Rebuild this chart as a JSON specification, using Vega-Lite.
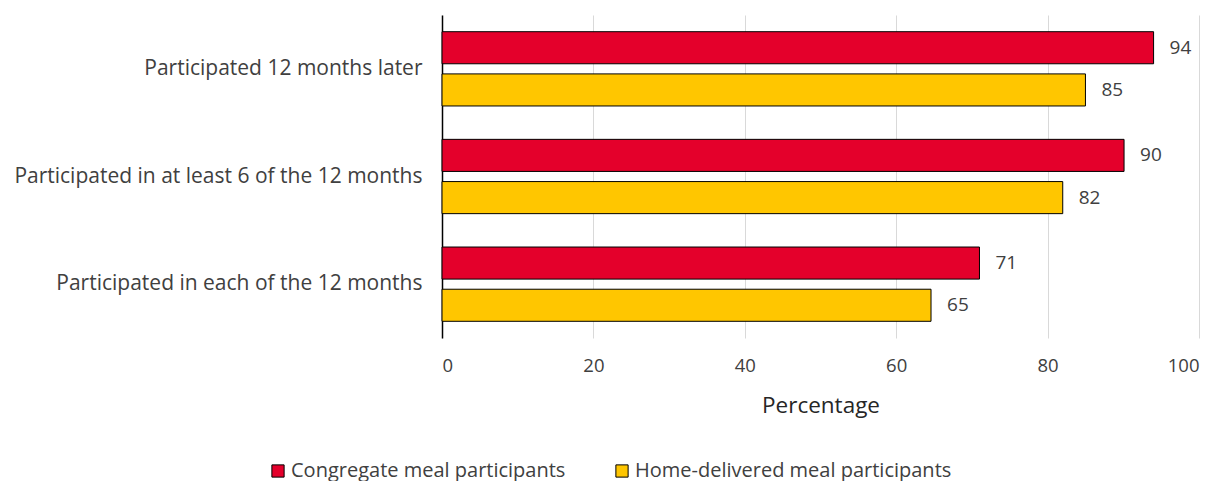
{
  "$schema": "https://vega.github.io/schema/vega-lite/v6.json",
  "width": 757,
  "height": 323,
  "padding": {"left": 13, "top": 15, "right": 5, "bottom": 0},
  "config": {
    "view": {"stroke": null},
    "font": "Open Sans"
  },
  "data": {
    "values": [
      {"measure": "Participated 12 months later", "group": "Congregate meal participants", "value": 94},
      {"measure": "Participated 12 months later", "group": "Home-delivered meal participants", "value": 85},
      {"measure": "Participated in at least 6 of the 12 months", "group": "Congregate meal participants", "value": 90.1},
      {"measure": "Participated in at least 6 of the 12 months", "group": "Home-delivered meal participants", "value": 82},
      {"measure": "Participated in each of the 12 months", "group": "Congregate meal participants", "value": 71},
      {"measure": "Participated in each of the 12 months", "group": "Home-delivered meal participants", "value": 64.6}
    ]
  },
  "encoding": {
    "y": {
      "field": "measure",
      "type": "nominal",
      "sort": null,
      "scale": {"paddingInner": 0.31, "paddingOuter": 0.155},
      "axis": {
        "title": null,
        "ticks": false,
        "domain": true,
        "domainColor": "#000000",
        "domainWidth": 1.5,
        "labelFontSize": 21,
        "labelColor": "#404040",
        "labelPadding": 20,
        "labelLimit": 700
      }
    },
    "yOffset": {
      "field": "group",
      "type": "nominal",
      "scale": {"paddingInner": 0.24, "paddingOuter": 0}
    },
    "x": {
      "field": "value",
      "type": "quantitative",
      "scale": {"domain": [0, 100]},
      "axis": {
        "title": "Percentage",
        "titleFontSize": 22.5,
        "titleFontWeight": "normal",
        "titleColor": "#262626",
        "titlePadding": 20,
        "values": [0, 20, 40, 60, 80, 100],
        "domain": false,
        "ticks": false,
        "grid": true,
        "gridColor": "#d9d9d9",
        "labelFontSize": 18.5,
        "labelColor": "#404040",
        "labelPadding": 18
      }
    }
  },
  "layer": [
    {
      "mark": {"type": "bar", "stroke": "#000000", "strokeWidth": 1},
      "encoding": {
        "color": {
          "field": "group",
          "type": "nominal",
          "scale": {
            "domain": ["Congregate meal participants", "Home-delivered meal participants"],
            "range": ["#E4002B", "#FFC600"]
          },
          "legend": {
            "title": null,
            "orient": "none",
            "direction": "horizontal",
            "padding": 0,
            "legendX": -174,
            "legendY": 446,
            "symbolType": "square",
            "symbolSize": 150,
            "symbolStrokeColor": "#000000",
            "symbolStrokeWidth": 1,
            "labelFontSize": 20,
            "labelColor": "#404040",
            "labelOffset": 3,
            "labelLimit": 500,
            "columnPadding": 46
          }
        }
      }
    },
    {
      "mark": {"type": "text", "align": "left", "dx": 16, "fontSize": 19, "color": "#404040"},
      "encoding": {
        "text": {"field": "value", "type": "quantitative", "format": ".0f"}
      }
    }
  ]
}
